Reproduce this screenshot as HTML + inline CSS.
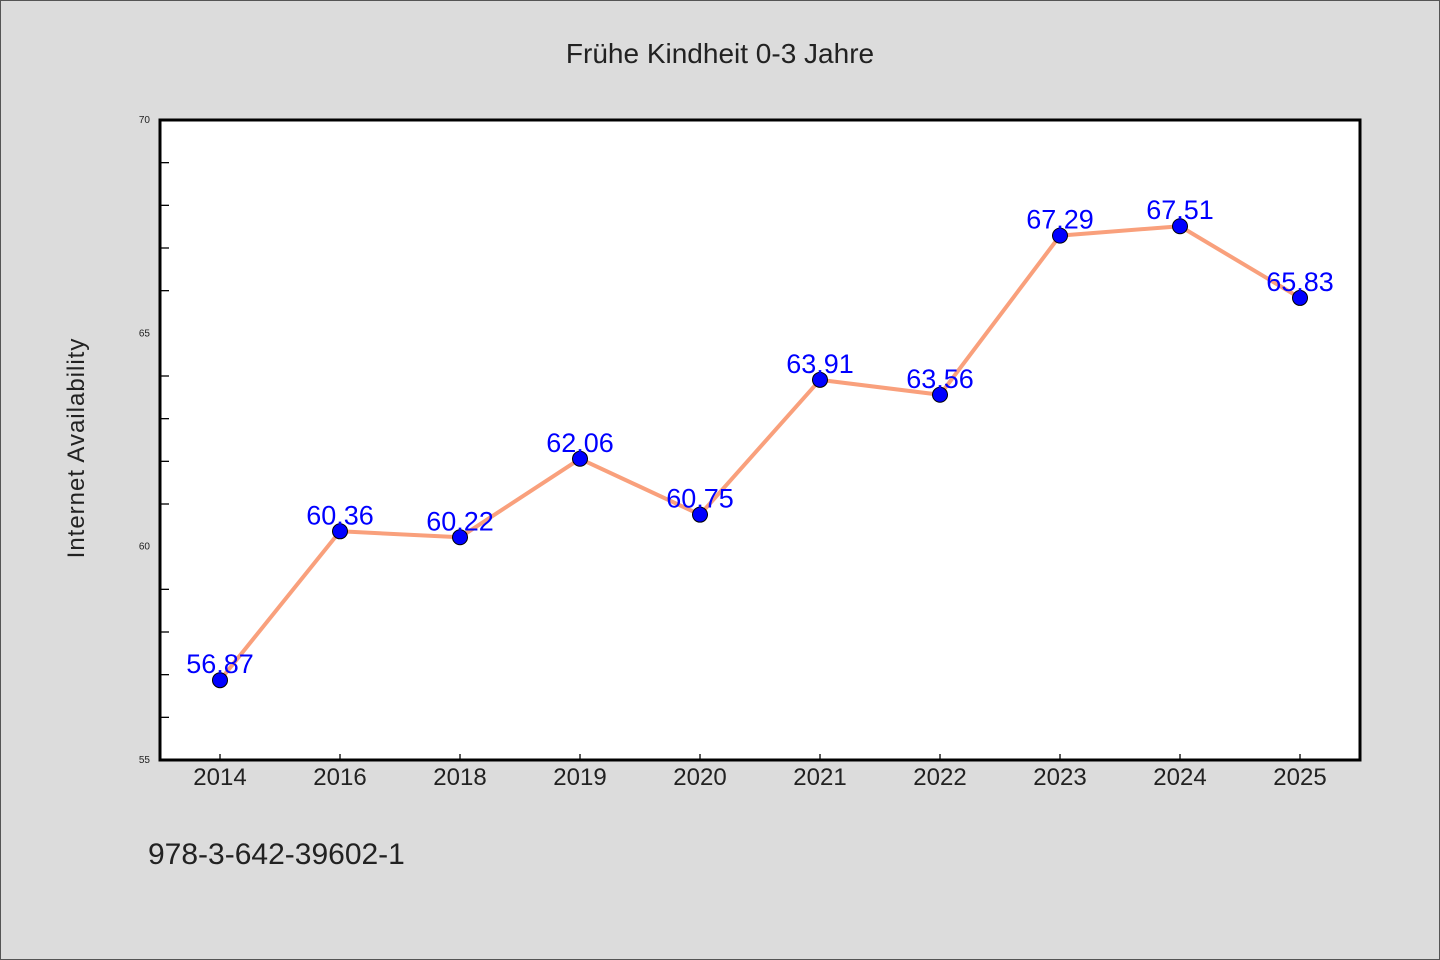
<!DOCTYPE html>
<html><head><meta charset="utf-8"><style>
body{margin:0;background:#dcdcdc}
svg{display:block;font-family:"WenQuanYi Zen Hei","Liberation Sans",sans-serif}
</style></head><body>
<svg width="1440" height="960" xmlns="http://www.w3.org/2000/svg">
<rect x="0.5" y="0.5" width="1439" height="959" fill="#dcdcdc" stroke="#555" stroke-width="1"/>
<text x="720" y="63" font-size="28" text-anchor="middle" fill="#222">Frühe Kindheit 0-3 Jahre</text>
<rect x="160" y="120" width="1200" height="640" fill="#fff"/>
<g id="grid"></g>
<g id="series"></g>
<rect x="160" y="120" width="1200" height="640" fill="none" stroke="#000" stroke-width="3"/>
<text transform="translate(84,448) rotate(-90)" font-size="24" text-anchor="middle" fill="#222" letter-spacing="1">Internet Availability</text>
<text x="148" y="864" font-size="30" fill="#222">978-3-642-39602-1</text>
</svg>
<script>
const categories=["2014","2016","2018","2019","2020","2021","2022","2023","2024","2025"];
const values=[56.87,60.36,60.22,62.06,60.75,63.91,63.56,67.29,67.51,65.83];
const yTickLabels=[55,60,65,70];
const yMin=55,yMax=70;
const NS="http://www.w3.org/2000/svg";
const X=i=>220+i*120;
const Y=v=>760-(v-yMin)/(yMax-yMin)*640;
function mk(t,a,p){const e=document.createElementNS(NS,t);for(const k in a)e.setAttribute(k,a[k]);p.appendChild(e);return e;}
const g=document.getElementById('grid'),s=document.getElementById('series');
for(let v=yMin+1;v<yMax;v++){if(v%5===0)continue;
const l=mk('line',{x1:160,x2:169,y1:Y(v),y2:Y(v),stroke:'#000','stroke-width':1.3},g);

}
yTickLabels.forEach(v=>{const t=mk('text',{x:150,y:Y(v)+3,'font-size':10,'text-anchor':'end',fill:'#222'},g);t.textContent=v;

});
categories.forEach((c,i)=>{const l=mk('line',{x1:X(i),x2:X(i),y1:760,y2:754,stroke:'#000','stroke-width':1.3},g);


const t=mk('text',{x:X(i),y:785,'font-size':24,'text-anchor':'middle',fill:'#222'},g);t.textContent=c;

});
const line=mk('polyline',{points:values.map((v,i)=>X(i)+','+Y(v)).join(' '),fill:'none',stroke:'#f9a07c','stroke-width':4,'stroke-linejoin':'round'},s);


values.forEach((v,i)=>{const c=mk('circle',{cx:X(i),cy:Y(v),r:7.5,fill:'#0000ff',stroke:'#000','stroke-width':1},s);


const t=mk('text',{x:X(i),y:Y(v)-7,'font-size':27,'text-anchor':'middle',fill:'#0000ff'},s);t.textContent=v.toFixed(2);

});
</script>
</body></html>
